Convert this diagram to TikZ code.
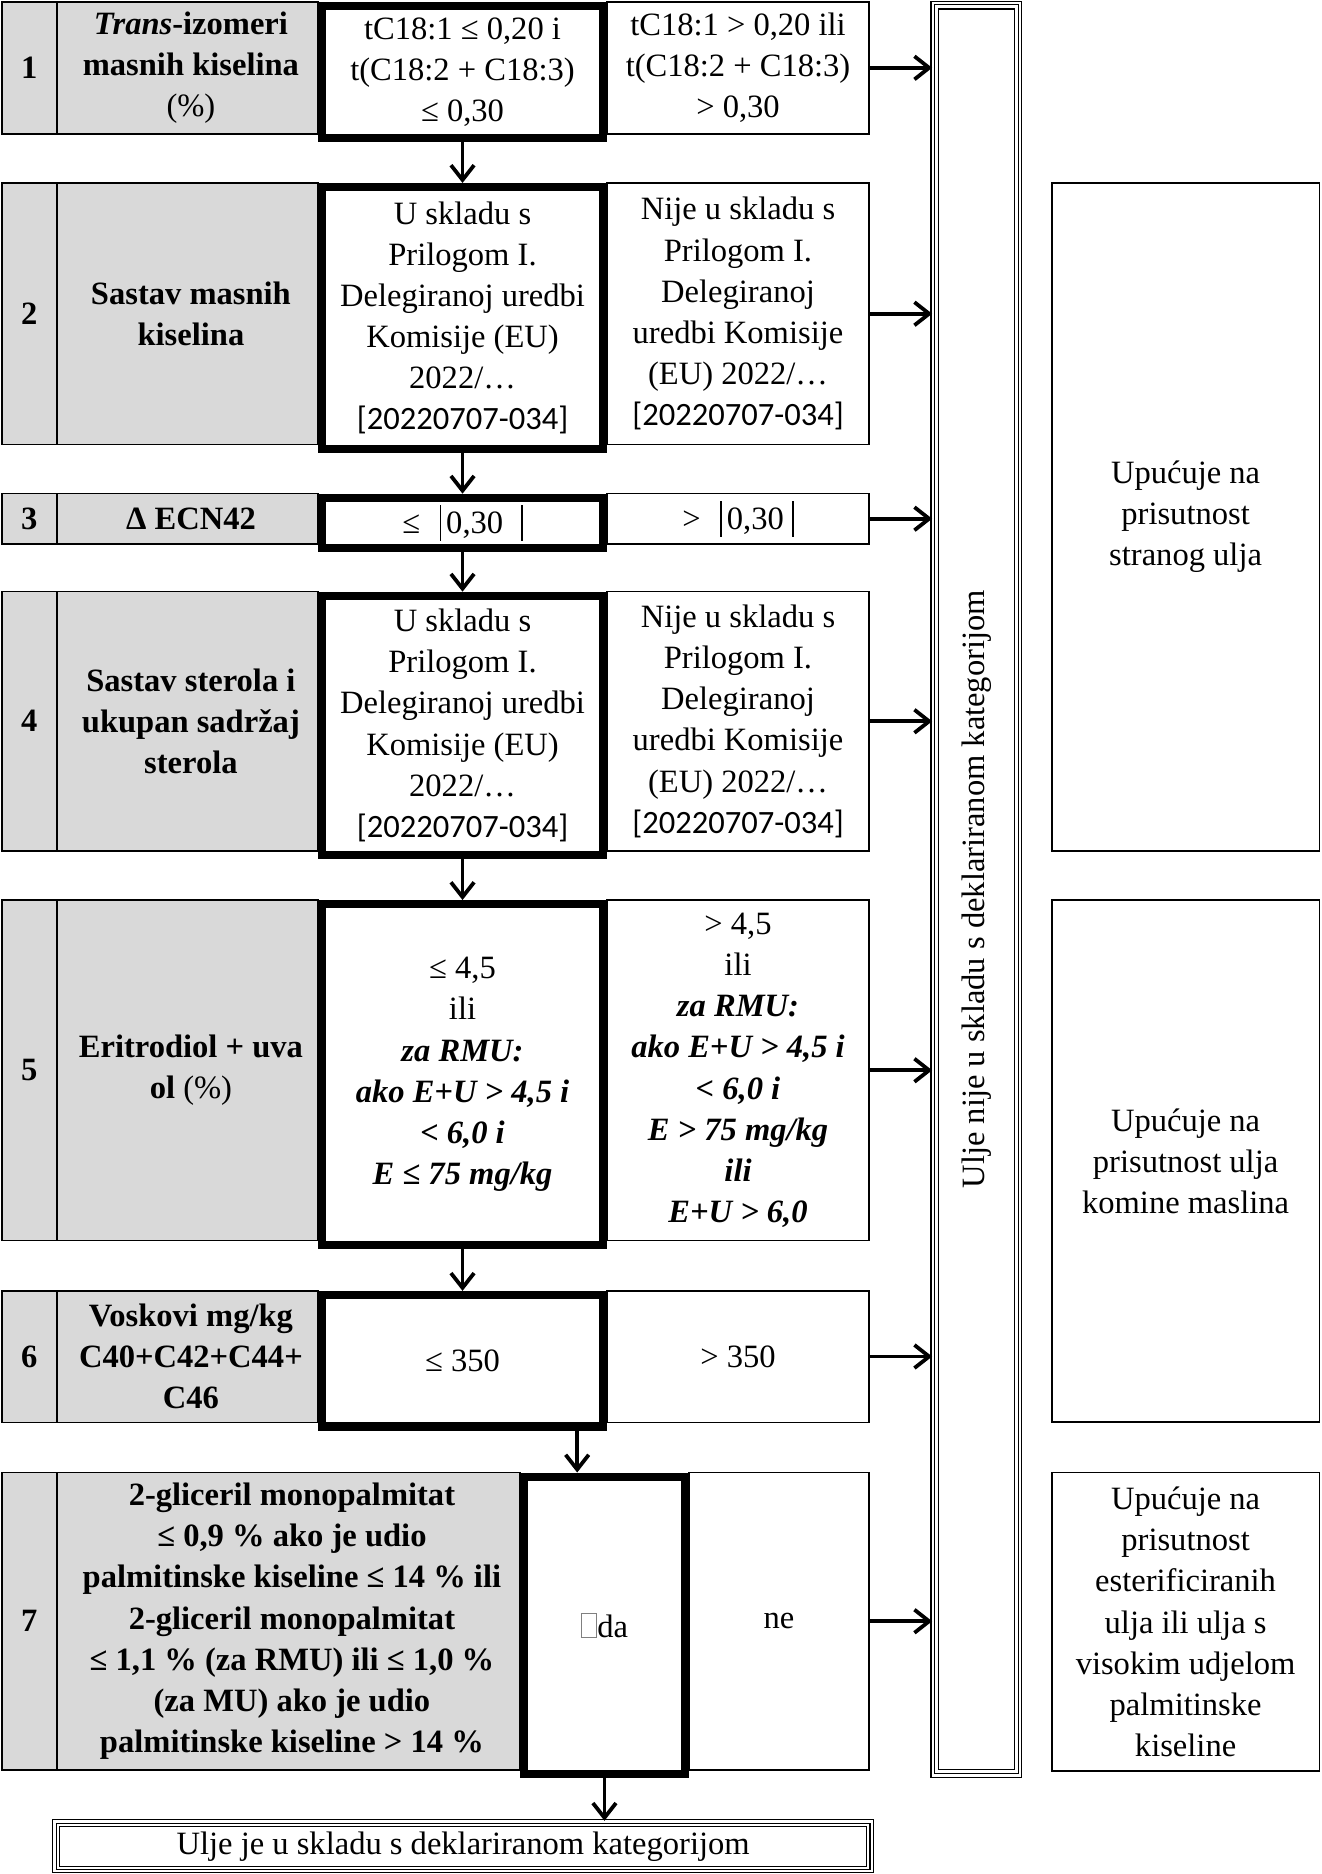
\documentclass[tikz,border=0pt]{standalone}
\usepackage{fontspec}
\setmainfont{Liberation Serif}
\newfontfamily\calibfont{Carlito}
\usepackage{xcolor}
\usetikzlibrary{fit,arrows.meta}
\definecolor{cellgrey}{RGB}{217,217,217}
\newcommand{\rowfont}{\fontsize{15.5pt}{19.6pt}\selectfont}
\newcommand{\regnum}{{\calibfont\fontsize{15.5pt}{19.6pt}\selectfont [20220707-034]}}
\newcommand{\tofu}{{\color{gray}\fboxsep=0pt\fboxrule=0.4pt\fbox{\rule{0pt}{0.72em}\hspace{0.45em}}}}
\newcommand{\vbar}{\rule[-0.22em]{0.8pt}{1.1em}}

\begin{document}
\begin{tikzpicture}[x=0.02cm,y=-0.02cm,
    cell/.style={draw, line width=0.7pt, inner sep=0pt},
    greycell/.style={cell, fill=cellgrey},
    passcell/.style={cell, line width=3.9pt},
    hintcell/.style={cell, line width=0.8pt},
    triple/.style={draw, line width=0.6pt, double, double distance=1.1pt, inner sep=0pt},
    txt/.style={align=center, inner sep=0pt, font=\rowfont},
    headtxt/.style={txt, font=\rowfont\bfseries},
    arr/.style={line width=1.8pt, -{Straight Barb[length=7pt,width=11pt]}}]
      \useasboundingbox (0,0) rectangle (1106,1568);

      % Row 1
      \node[greycell, fit={(1.5,1.5) (47.5,112)}] (n1) {};
      \node[greycell, fit={(47.5,1.5) (266,112)}] (lab1) {};
      \node[cell, fit={(508,1.5) (727,112)}] (no1) {};
      \node[passcell, fit={(269.5,5) (504.5,115.5)}] (yes1) {};
      \node[headtxt] (n1t) at (n1) {1};
      \node[headtxt] (lab1t) at ([xshift=0.06cm]lab1) {\textit{Trans}-izomeri\\ masnih kiselina\\ \textnormal{(\%)}};
      \node[txt] (no1t) at (no1) {tC18:1 > 0,20 ili\\ t(C18:2 + C18:3)\\ > 0,30};
      \node[txt] (yes1t) at (yes1) {tC18:1 ≤ 0,20 i\\ t(C18:2 + C18:3)\\ ≤ 0,30};

      % Row 2
      \node[greycell, fit={(1.5,153) (47.5,372)}] (n2) {};
      \node[greycell, fit={(47.5,153) (266,372)}] (lab2) {};
      \node[cell, fit={(508,153) (727,372)}] (no2) {};
      \node[passcell, fit={(269.5,156.5) (504.5,375.5)}] (yes2) {};
      \node[headtxt] (n2t) at (n2) {2};
      \node[headtxt] (lab2t) at ([xshift=0.06cm]lab2) {Sastav masnih\\ kiselina};
      \node[txt] (no2t) at (no2) {Nije u skladu s\\ Prilogom I.\\ Delegiranoj\\ uredbi Komisije\\ (EU) 2022/…\\ \regnum};
      \node[txt] (yes2t) at (yes2) {U skladu s\\ Prilogom I.\\ Delegiranoj uredbi\\ Komisije (EU)\\ 2022/…\\ \regnum};

      % Row 3
      \node[greycell, fit={(1.5,413) (47.5,455)}] (n3) {};
      \node[greycell, fit={(47.5,413) (266,455)}] (lab3) {};
      \node[cell, fit={(508,413) (727,455)}] (no3) {};
      \node[passcell, fit={(269.5,416.5) (504.5,458.5)}] (yes3) {};
      \node[headtxt] (n3t) at (n3) {3};
      \node[headtxt] (lab3t) at ([xshift=0.06cm]lab3) {Δ ECN42};
      \node[txt] (no3t) at (no3) {>\hspace{0.6em}\vbar\hspace{0.15em}0,30\hspace{0.25em}\vbar};
      \node[txt] (yes3t) at (yes3) {≤\hspace{0.6em}\vbar\hspace{0.15em}0,30\hspace{0.55em}\vbar};

      % Row 4
      \node[greycell, fit={(1.5,495) (47.5,712)}] (n4) {};
      \node[greycell, fit={(47.5,495) (266,712)}] (lab4) {};
      \node[cell, fit={(508,495) (727,712)}] (no4) {};
      \node[passcell, fit={(269.5,498.5) (504.5,715.5)}] (yes4) {};
      \node[headtxt] (n4t) at (n4) {4};
      \node[headtxt] (lab4t) at ([xshift=0.06cm]lab4) {Sastav sterola i\\ ukupan sadržaj\\ sterola};
      \node[txt] (no4t) at (no4) {Nije u skladu s\\ Prilogom I.\\ Delegiranoj\\ uredbi Komisije\\ (EU) 2022/…\\ \regnum};
      \node[txt] (yes4t) at (yes4) {U skladu s\\ Prilogom I.\\ Delegiranoj uredbi\\ Komisije (EU)\\ 2022/…\\ \regnum};

      % Row 5
      \node[greycell, fit={(1.5,753) (47.5,1038)}] (n5) {};
      \node[greycell, fit={(47.5,753) (266,1038)}] (lab5) {};
      \node[cell, fit={(508,753) (727,1038)}] (no5) {};
      \node[passcell, fit={(269.5,756.5) (504.5,1041.5)}] (yes5) {};
      \node[headtxt] (n5t) at (n5) {5};
      \node[headtxt] (lab5t) at ([xshift=0.06cm]lab5) {Eritrodiol + uva\\ ol \textnormal{(\%)}};
      \node[txt] (no5t) at (no5) {> 4,5\\ ili\\ \textbf{\textit{za RMU:}}\\ \textbf{\textit{ako E+U > 4,5 i}}\\ \textbf{\textit{< 6,0 i}}\\ \textbf{\textit{E > 75 mg/kg}}\\ \textbf{\textit{ili}}\\ \textbf{\textit{E+U > 6,0}}};
      \node[txt] (yes5t) at (yes5) {≤ 4,5\\ ili\\ \textbf{\textit{za RMU:}}\\ \textbf{\textit{ako E+U > 4,5 i}}\\ \textbf{\textit{< 6,0 i}}\\ \textbf{\textit{E ≤ 75 mg/kg}}};

      % Row 6
      \node[greycell, fit={(1.5,1080) (47.5,1190)}] (n6) {};
      \node[greycell, fit={(47.5,1080) (266,1190)}] (lab6) {};
      \node[cell, fit={(508,1080) (727,1190)}] (no6) {};
      \node[passcell, fit={(269.5,1083.5) (504.5,1193.5)}] (yes6) {};
      \node[headtxt] (n6t) at (n6) {6};
      \node[headtxt] (lab6t) at ([xshift=0.06cm]lab6) {Voskovi mg/kg\\ C40+C42+C44+\\ C46};
      \node[txt] (no6t) at (no6) {> 350};
      \node[txt] (yes6t) at (yes6) {≤ 350};

      % Row 7
      \node[greycell, fit={(1.5,1232) (47.5,1481)}] (n7) {};
      \node[greycell, fit={(47.5,1232) (435,1481)}] (lab7) {};
      \node[cell, fit={(576.5,1232) (727,1481)}] (no7) {};
      \node[passcell, fit={(438.5,1235.5) (573,1484.5)}] (yes7) {};
      \node[headtxt] (n7t) at (n7) {7};
      \node[headtxt] (lab7t) at ([xshift=0.06cm]lab7) {2-gliceril monopalmitat\\ ≤ 0,9 \% ako je udio\\ palmitinske kiseline ≤ 14 \% ili\\ 2-gliceril monopalmitat\\ ≤ 1,1 \% (za RMU) ili ≤ 1,0 \%\\ (za MU) ako je udio\\ palmitinske kiseline > 14 \%};
      \node[txt] (no7t) at (no7) {ne};
      \node[txt] (yes7t) at (yes7) {\tofu da};

      % Outcome boxes
      \node[triple, fit={(780.5,2.5) (853.5,1485.5)}] (notok) {};
      \draw[line width=0.6pt] ([shift={(5.5,5.5)}]notok.north west) rectangle ([shift={(-5.5,-5.5)}]notok.south east);
      \node[txt, rotate=90] (notokt) at (notok) {Ulje nije u skladu s deklariranom kategorijom};

      \node[triple, fit={(45.5,1524) (729.5,1565.5)}] (ok) {};
      \draw[line width=0.6pt] ([shift={(5,4.5)}]ok.north west) rectangle ([shift={(-5,-4.5)}]ok.south east);
      \node[txt] (okt) at (ok) {Ulje je u skladu s deklariranom kategorijom};

      \node[hintcell, fit={(880,153) (1104,712)}] (hintA) {};
      \node[hintcell, fit={(880,753) (1104,1190)}] (hintB) {};
      \node[hintcell, fit={(880,1232) (1104,1482)}] (hintC) {};
      \node[txt] (hintAt) at (hintA) {Upućuje na\\ prisutnost\\ stranog ulja};
      \node[txt] (hintBt) at (hintB) {Upućuje na\\ prisutnost ulja\\ komine maslina};
      \node[txt] (hintCt) at (hintC) {Upućuje na\\ prisutnost\\ esterificiranih\\ ulja ili ulja s\\ visokim udjelom\\ palmitinske\\ kiseline};

      % Pass arrows
      \draw[arr] (yes1.south) -- (yes2.north);
      \draw[arr] (yes2.south) -- (yes3.north);
      \draw[arr] (yes3.south) -- (yes4.north);
      \draw[arr] (yes4.south) -- (yes5.north);
      \draw[arr] (yes5.south) -- (yes6.north);
      \coordinate (drop6) at ([xshift=-0.5cm]yes6.south east);
      \draw[arr] (drop6) -- (drop6 |- yes7.north);
      \draw[arr] (yes7.south) -- (yes7.south |- ok.north);

      % Fail arrows
      \draw[arr] (no1.east) -- (no1.east -| notok.west);
      \draw[arr] (no2.east) -- (no2.east -| notok.west);
      \draw[arr] (no3.east) -- (no3.east -| notok.west);
      \draw[arr] (no4.east) -- (no4.east -| notok.west);
      \draw[arr] (no5.east) -- (no5.east -| notok.west);
      \draw[arr] (no6.east) -- (no6.east -| notok.west);
      \draw[arr] (no7.east) -- (no7.east -| notok.west);
    \end{tikzpicture}
\end{document}
